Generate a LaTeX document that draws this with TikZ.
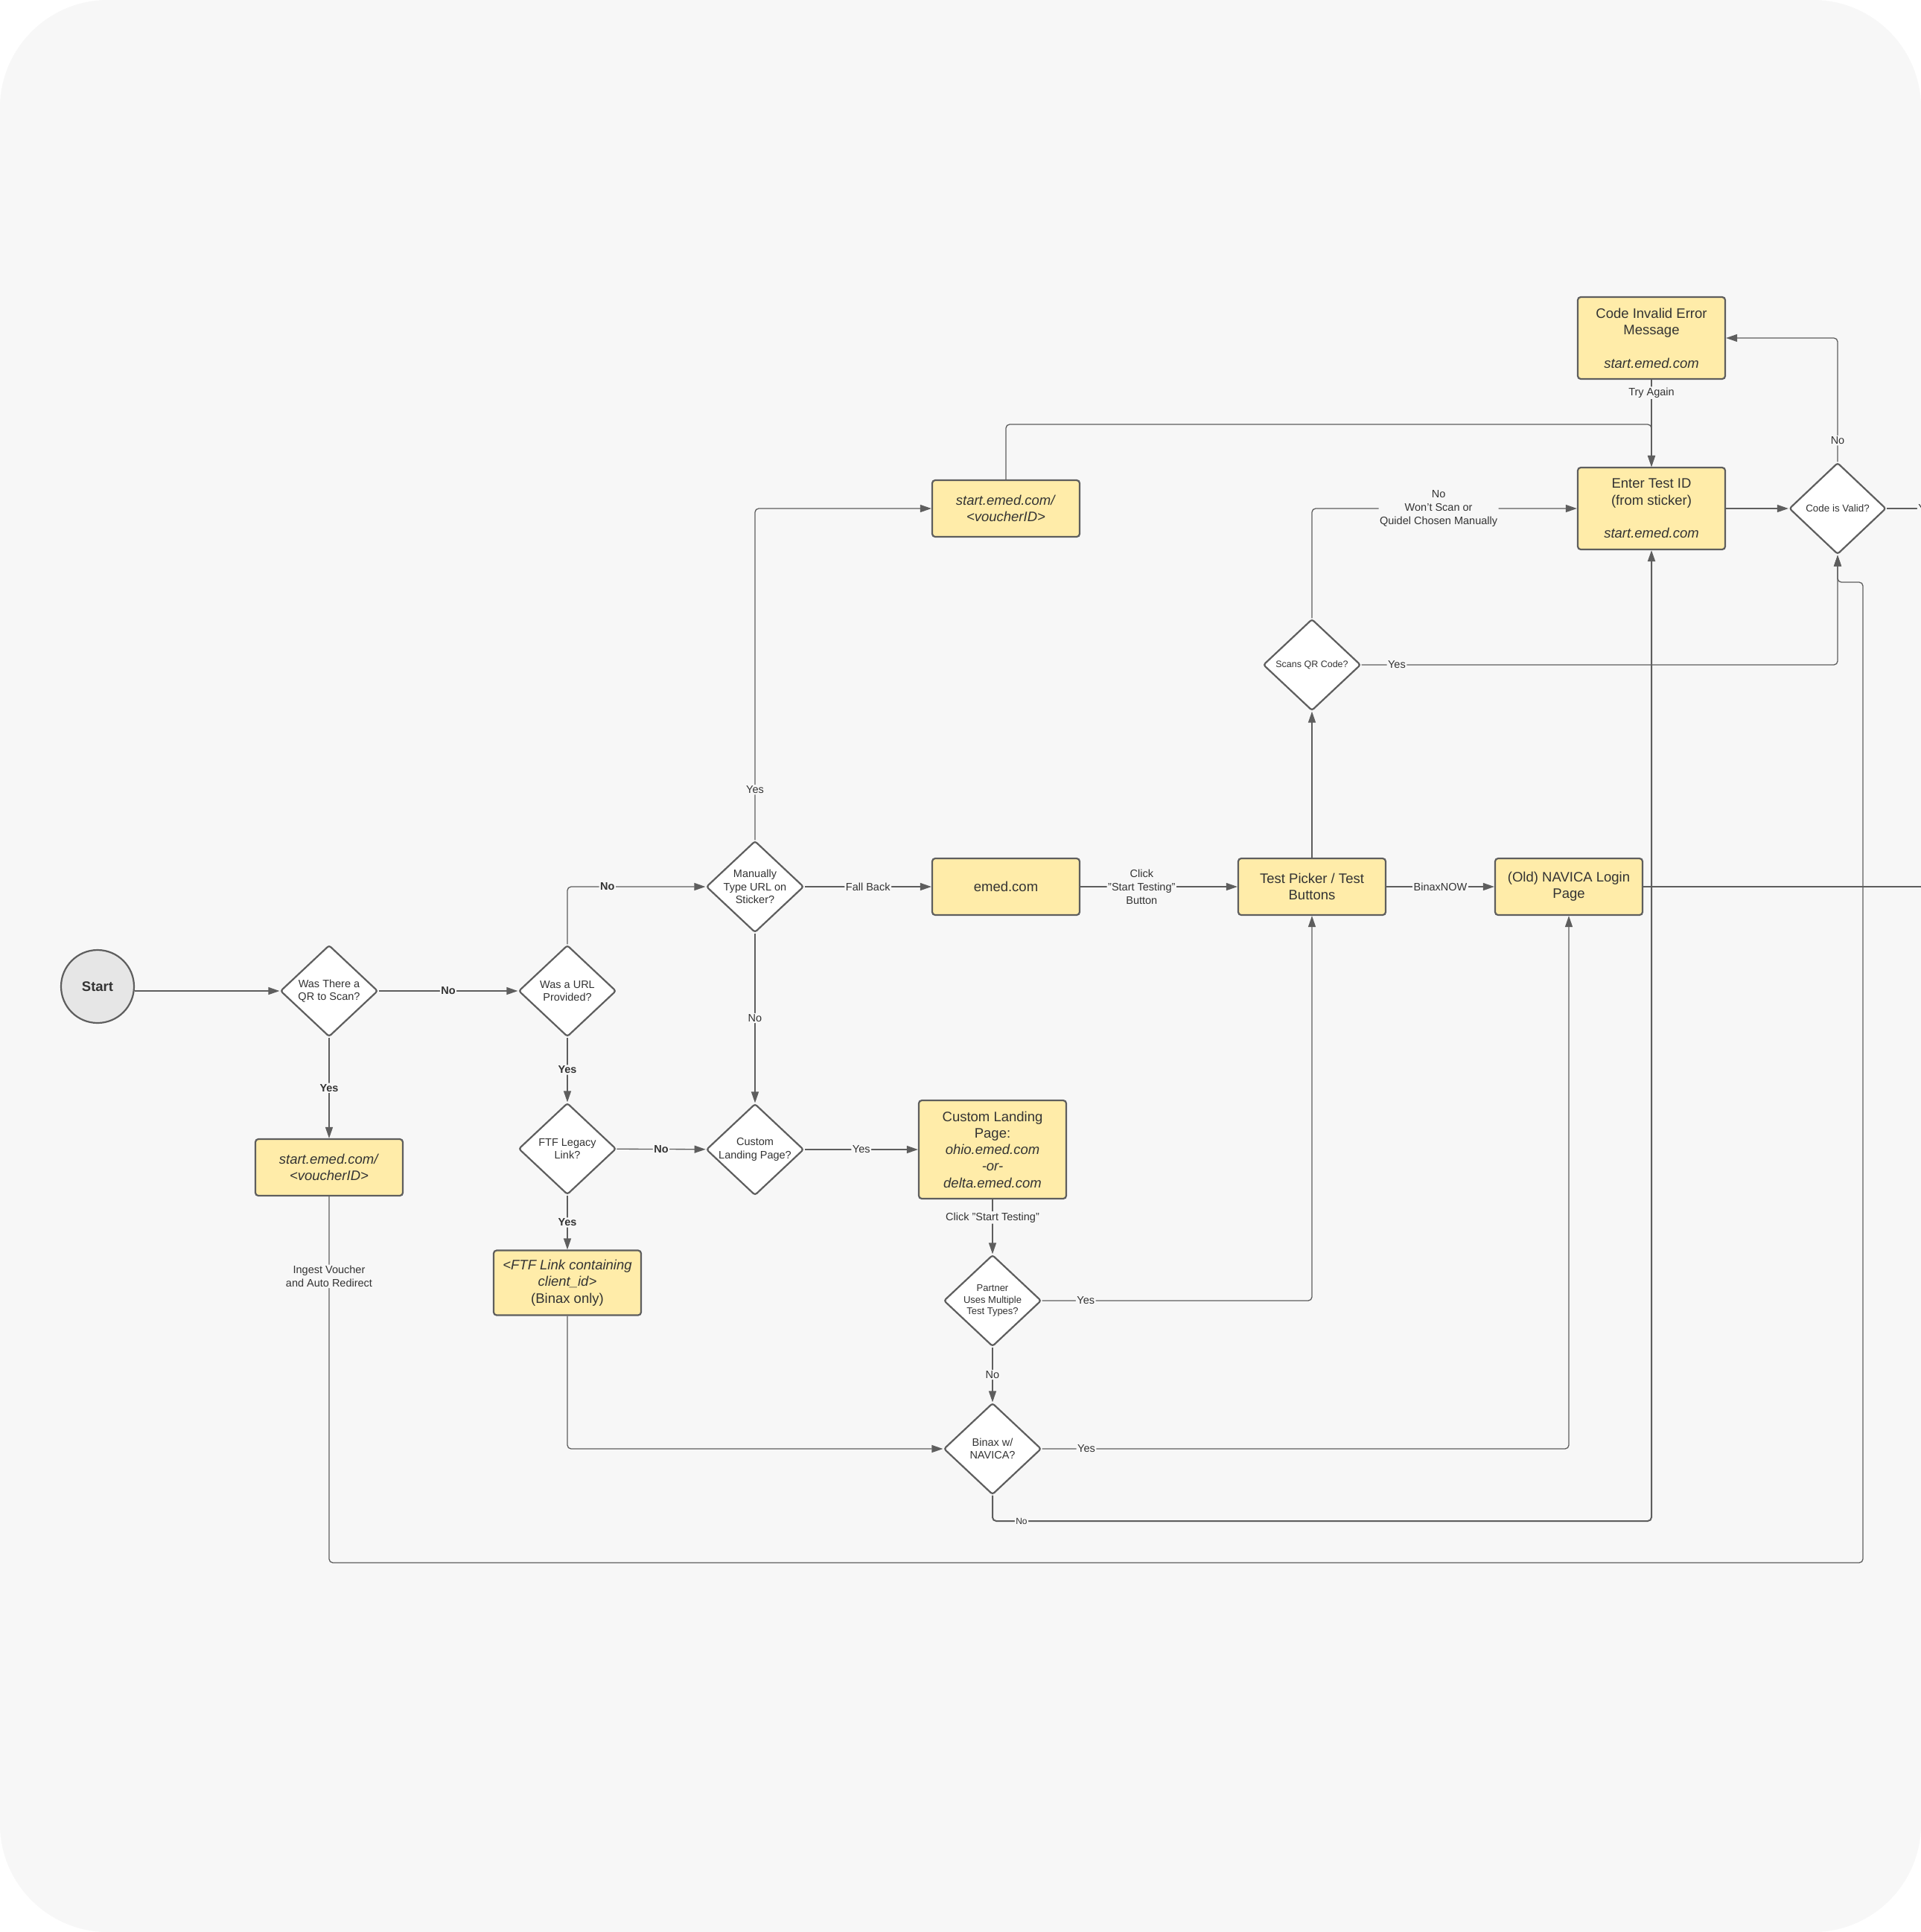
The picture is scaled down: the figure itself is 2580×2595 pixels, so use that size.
\documentclass[tikz,border=0pt]{standalone}
\usepackage{xcolor}
\usepackage{fontspec}
\setmainfont{Liberation Sans}
\usepackage{tikz}
\usetikzlibrary{shapes.geometric,arrows.meta}

\definecolor{bgc}{HTML}{F7F7F7}
\definecolor{boxc}{HTML}{FFECA9}
\definecolor{linec}{HTML}{5E5E5E}
\definecolor{txtc}{HTML}{333333}
\definecolor{startc}{HTML}{E6E6E6}

\newcommand{\boxfont}{\fontsize{18.5}{22.3}\selectfont}
\newcommand{\decfont}{\fontsize{14.5}{17.5}\selectfont}
\newcommand{\lblfont}{\fontsize{14.5}{18}\selectfont}

\tikzset{
  box/.style={draw=linec, line width=2.2pt, fill=boxc, rounded corners=4pt, minimum width=198pt, minimum height=76pt, align=center, text=txtc, font=\boxfont, inner sep=2pt},
  dec/.style={diamond, draw=linec, line width=2.2pt, fill=white, rounded corners=3pt, minimum width=131pt, minimum height=123pt, inner sep=-3pt, align=center, text=txtc, font=\decfont},
  arr/.style={draw=linec, line width=1.3pt, -{Triangle[length=15pt,width=10pt]}, rounded corners=5pt},
  con/.style={draw=linec, line width=1.3pt, rounded corners=5pt},
  lbl/.style={fill=bgc, inner sep=1.5pt, text=txtc, font=\lblfont, align=center},
  lblb/.style={lbl, font=\lblfont\bfseries},
}

\begin{document}
\begin{tikzpicture}[x=1pt, y=-1pt]
\useasboundingbox (0,0) rectangle (2580,2595);
\fill[white] (0,0) rectangle (2580,2595);
\fill[bgc, rounded corners=145pt] (0,0) rectangle (2580,2595);

\node[circle, draw=linec, line width=2.2pt, fill=startc, minimum size=98pt, text=txtc, font=\boxfont\bfseries] (start) at (131,1325) {Start};
\node[dec] (qr) at (442,1331) {Was There a\\QR to Scan?};
\node[dec] (url) at (762,1331) {Was a URL\\Provided?};
\node[box] (vch) at (442,1568) {\textit{start.emed.com/}\\\textit{<voucherID>}};
\node[dec] (ftf) at (762,1543) {FTF Legacy\\Link?};
\node[box, minimum height=87pt] (ftfl) at (762,1723) {\textit{<FTF Link containing}\\\textit{client\_id>}\\(Binax only)};
\node[dec] (man) at (1014,1191) {Manually\\Type URL on\\Sticker?};
\node[box] (emed) at (1351,1191) {emed.com};
\node[dec] (cust) at (1014,1544) {Custom\\Landing Page?};
\node[box, minimum height=132pt] (land) at (1333,1544) {Custom Landing\\Page:\\\textit{ohio.emed.com}\\\textit{-or-}\\\textit{delta.emed.com}};
\node[dec, font=\fontsize{13}{15.6}\selectfont] (multi) at (1333,1747) {Partner\\Uses Multiple\\Test Types?};
\node[dec] (navq) at (1333,1946) {Binax w/\\NAVICA?};
\node[box] (vtop) at (1351,683) {\textit{start.emed.com/}\\\textit{<voucherID>}};
\node[box] (pick) at (1762,1191) {Test Picker / Test\\Buttons};
\node[dec, font=\fontsize{12.5}{15}\selectfont] (scan) at (1762,893) {Scans QR Code?};
\node[box] (navl) at (2107,1191) {(Old) NAVICA Login\\Page};
\node[box, minimum height=110pt] (enter) at (2218,683) {Enter Test ID\\(from sticker)\\\mbox{}\\\textit{start.emed.com}};
\node[box, minimum height=110pt] (err) at (2218,454) {Code Invalid Error\\Message\\\mbox{}\\\textit{start.emed.com}};
\node[dec, minimum width=130pt, font=\fontsize{13.4}{16}\selectfont] (valid) at (2468,683) {Code is Valid?};

\coordinate (nobend) at (2218,2043);
\coordinate (loopa) at (2502,2099);
\coordinate (loopb) at (2502,782);
\coordinate (tjoin) at (2218,570);
\coordinate (navout) at (2600,1191);
\coordinate (validout) at (2620,683);

\draw[arr] (start.east |- qr) -- (qr);
\draw[arr] (qr) -- node[lblb] {No} (url);
\draw[arr] (qr) -- node[lblb] {Yes} (vch);
\draw[arr] (url) -- node[lblb] {Yes} (ftf);
\draw[arr] (ftf) -- node[lblb] {Yes} (ftfl);
\draw[arr] (url.north) |- node[lblb, pos=0.645] {No} (man.west);
\draw[arr] (ftf) -- node[lblb] {No} (cust);
\draw[arr] (man) -- node[lbl] {No} (cust);
\draw[arr] (man) -- node[lbl] {Fall Back} (emed);
\draw[arr] (man.north) |- node[lbl, pos=0.076] {Yes} (vtop.west);
\draw[arr] (cust) -- node[lbl] {Yes} (land);
\draw[arr] (land) -- node[lbl, pos=0.33] {Click "Start Testing"} (multi);
\draw[arr] (multi) -- node[lbl] {No} (navq);
\draw[arr] (multi.east) -| node[lbl, pos=0.081] {Yes} (pick.south);
\draw[arr] (ftfl.south) |- (navq.west);
\draw[arr] (navq.east) -| node[lbl, pos=0.042] {Yes} (navl.south);
\draw[arr, line width=2pt] (navq.south) |- node[lbl, font=\fontsize{12}{14}\selectfont, pos=0.522] {No} (nobend) -- (enter.south);
\draw[arr] (vch.south) |- node[lbl, pos=0.109] {Ingest Voucher\\and Auto Redirect} (loopa) -- (loopb) -| (valid.south);

\draw[arr] (emed) -- node[lbl, pos=0.39] {Click\\"Start Testing"\\Button} (pick);
\draw[arr] (pick) -- node[lbl] {BinaxNOW} (navl);
\draw[con] (navl) -- (navout);
\draw[arr] (pick) -- (scan);
\draw[arr] (scan.east) -| node[lbl, pos=0.037] {Yes} (valid.south);
\draw[arr] (scan.north) |- node[lbl, pos=0.739] {No\\Won't Scan or\\Quidel Chosen Manually} (enter.west);
\draw[arr] (vtop.north) |- (tjoin) -- (enter.north);
\draw[arr] (err) -- node[lbl, pos=0.15] {Try Again} (enter);
\draw[arr] (enter) -- (valid);
\draw[arr] (valid.north) |- node[lbl, pos=0.086] {No} (err.east);
\draw[con] (valid) -- node[lbl, pos=0.63] {Yes} (validout);

\end{tikzpicture}
\end{document}
